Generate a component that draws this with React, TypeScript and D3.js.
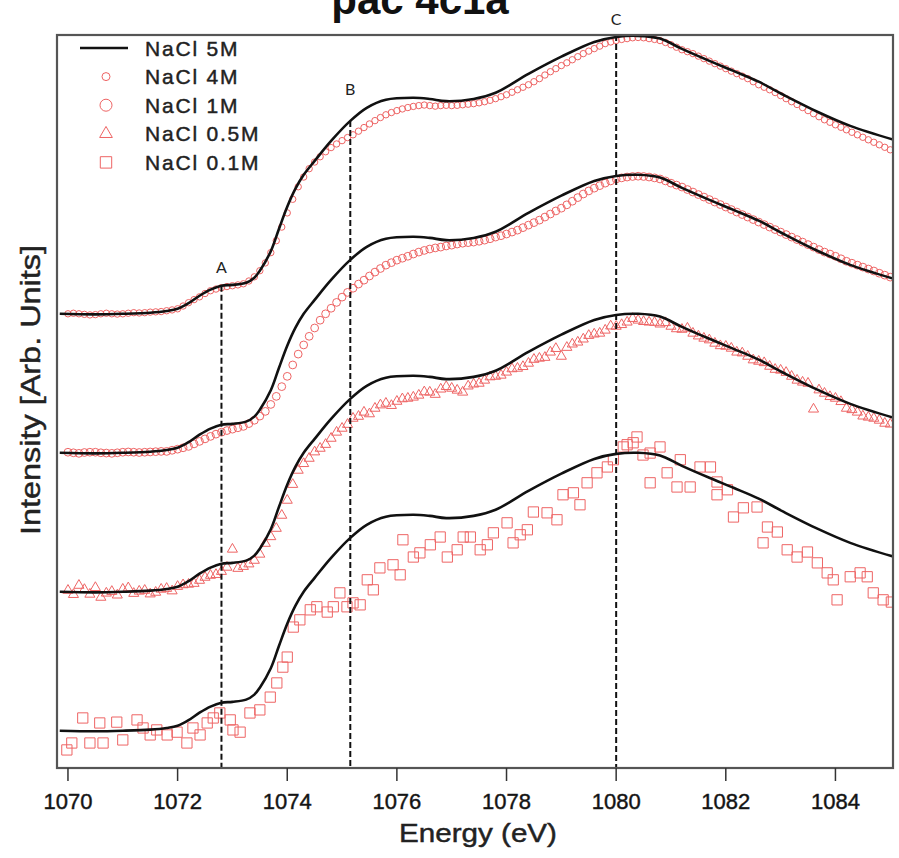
import React from "react";
import * as d3 from "d3";

// ---------- DATA ----------
// NaCl 5M reference curve (normalized intensity, %), [energy eV, value]
const NACL_5M: [number, number][] = [
  [1069.85, 0], [1070.5, -0.2], [1071.0, 0], [1071.5, 0.4], [1071.8, 1.0], [1072.0, 1.8],
  [1072.2, 3.8], [1072.4, 6.5], [1072.6, 8.7], [1072.8, 10.1], [1073.0, 10.4], [1073.25, 11.2],
  [1073.4, 13.0], [1073.5, 15.5], [1073.7, 22.5], [1073.85, 30.6], [1074.0, 38.5], [1074.15, 45.0],
  [1074.3, 50.0], [1074.5, 55.0], [1074.8, 62.2], [1075.15, 69.4], [1075.45, 74.1], [1075.8, 77.0],
  [1076.3, 77.7], [1076.6, 77.3], [1076.9, 76.5], [1077.4, 77.3], [1077.8, 79.5], [1078.4, 86.3],
  [1079.0, 92.5], [1079.6, 97.8], [1080.0, 99.6], [1080.4, 100], [1080.8, 99.0], [1081.2, 95.3],
  [1081.7, 91.0], [1082.14, 87.4], [1082.6, 83.5], [1083.05, 78.8], [1083.67, 72.7], [1084.27, 67.6],
  [1085.05, 62.7],
];

// energy grids of the measured spectra (eV)
const ENERGY_GRID = [
  1070.0, 1070.2, 1070.4, 1070.6, 1070.8, 1071.0, 1071.2, 1071.4, 1071.6, 1071.8,
  1072.0, 1072.2, 1072.4, 1072.6, 1072.8, 1073.0, 1073.2, 1073.4, 1073.6, 1073.8,
  1074.0, 1074.2, 1074.4, 1074.6, 1074.8, 1075.0, 1075.2, 1075.4, 1075.6, 1075.8,
  1076.0, 1076.2, 1076.4, 1076.6, 1076.8, 1077.0, 1077.2, 1077.4, 1077.6, 1077.8,
  1078.0, 1078.2, 1078.4, 1078.6, 1078.8, 1079.0, 1079.2, 1079.4, 1079.6, 1079.8,
  1080.0, 1080.2, 1080.4, 1080.6, 1080.8, 1081.0, 1081.2, 1081.4, 1081.6, 1081.8,
  1082.0, 1082.2, 1082.4, 1082.6, 1082.8, 1083.0, 1083.2, 1083.4, 1083.6, 1083.8,
  1084.0, 1084.2, 1084.4, 1084.6, 1084.8, 1085.0,
];
const ENERGY_GRID_MID = [
  1070.1, 1070.3, 1070.5, 1070.7, 1070.9, 1071.1, 1071.3, 1071.5, 1071.7, 1071.9,
  1072.1, 1072.3, 1072.5, 1072.7, 1072.9, 1073.1, 1073.3, 1073.5, 1073.7, 1073.9,
  1074.1, 1074.3, 1074.5, 1074.7, 1074.9, 1075.1, 1075.3, 1075.5, 1075.7, 1075.9,
  1076.1, 1076.3, 1076.5, 1076.7, 1076.9, 1077.1, 1077.3, 1077.5, 1077.7, 1077.9,
  1078.1, 1078.3, 1078.5, 1078.7, 1078.9, 1079.1, 1079.3, 1079.5, 1079.7, 1079.9,
  1080.1, 1080.3, 1080.5, 1080.7, 1080.9, 1081.1, 1081.3, 1081.5, 1081.7, 1081.9,
  1082.1, 1082.3, 1082.5, 1082.7, 1082.9, 1083.1, 1083.3, 1083.5, 1083.7, 1083.9,
  1084.1, 1084.3, 1084.5, 1084.7, 1084.9,
];

const NACL_4M = [
  0, 0, -0.4, 0, 0, 0, 0.4, 0.4, 0.7, 1.1,
  1.8, 4.0, 6.1, 8.3, 9.4, 10.1, 10.8, 13.3, 18.3, 26.3,
  36.3, 45.7, 52.2, 56.5, 59.8, 62.3, 64.4, 67.0, 69.5, 71.6,
  73.1, 74.2, 74.9, 74.9, 74.9, 74.9, 75.2, 75.6, 76.3, 77.4,
  78.8, 80.6, 82.4, 84.6, 87.1, 89.3, 91.4, 93.6, 95.4, 97.2,
  98.3, 99.0, 99.4, 99.0, 98.3, 96.8, 95.0, 93.6, 91.8, 90.0,
  88.2, 86.4, 84.6, 82.4, 80.6, 78.5, 76.3, 74.2, 72.0, 69.8,
  68.0, 66.2, 64.4, 62.6, 60.8, 59.0,
];
const NACL_4M_MID = [
  0.2, -0.2, -0.3, 0.2, -0.1, 0.2, 0.3, 0.6, 0.8, 1.4,
  2.8, 5.1, 7.3, 8.9, 9.8, 10.4, 11.8, 15.5, 22.0, 31.2,
  41.2, 49.2, 54.6, 58.3, 61.1, 63.4, 65.7, 68.3, 70.6, 72.4,
  73.7, 74.6, 75.1, 74.7, 75.0, 75.0, 75.4, 75.9, 76.8, 78.1,
  79.7, 81.5, 83.5, 85.9, 88.2, 90.3, 92.5, 94.5, 96.3, 97.8,
  98.7, 99.3, 99.3, 98.7, 97.6, 95.9, 94.3, 92.7, 90.9, 89.1,
  87.3, 85.5, 83.5, 81.5, 79.6, 77.4, 75.3, 73.1, 70.9, 68.9,
  67.1, 65.3, 63.5, 61.7, 59.9,
];

const NACL_1M = [
  0.2, -0.2, 0.2, 0, -0.2, 0.2, 0.2, 0.2, 0.4, 0.5,
  1.3, 2.3, 4.1, 5.9, 7.4, 8.5, 9.5, 11.7, 14.9, 20.3,
  27.5, 35.5, 41.9, 47.7, 52.0, 56.0, 59.2, 62.1, 65.0, 67.5,
  69.3, 70.7, 72.2, 73.3, 74.0, 74.7, 75.4, 75.8, 76.5, 77.6,
  78.7, 80.1, 81.9, 83.7, 85.9, 88.0, 90.5, 93.1, 95.2, 97.0,
  98.5, 99.2, 99.5, 99.2, 98.5, 97.0, 95.6, 93.8, 92.0, 90.2,
  88.4, 86.6, 84.8, 83.0, 81.2, 79.4, 77.6, 75.8, 74.0, 72.2,
  70.7, 68.9, 67.5, 66.1, 64.6, 63.2,
];
const NACL_1M_MID = [
  0.0, 0.1, 0.2, -0.1, 0.0, 0.3, 0.1, 0.3, 0.5, 0.9,
  1.8, 3.2, 5.0, 6.7, 8.0, 9.0, 10.5, 13.2, 17.4, 23.8,
  31.6, 38.8, 44.9, 50.0, 54.1, 57.7, 60.7, 63.6, 66.3, 68.4,
  70.0, 71.5, 72.8, 73.7, 74.4, 75.1, 75.6, 76.1, 77.0, 78.1,
  79.4, 81.0, 82.8, 84.8, 87.0, 89.2, 91.8, 94.2, 96.1, 97.8,
  98.9, 99.4, 99.4, 98.9, 97.8, 96.3, 94.7, 92.9, 91.1, 89.3,
  87.5, 85.7, 83.9, 82.1, 80.3, 78.5, 76.7, 74.9, 73.1, 71.5,
  69.8, 68.2, 66.8, 65.4, 63.9,
];

const NACL_05M = [
  0.5, 2.3, -0.9, -2.0, 0.1, 0.9, -0.6, 0.5, -0.2, 1.2,
  1.9, 2.7, 4.1, 5.9, 7.3, 15.3, 9.1, 11.3, 17.4, 22.8,
  32.9, 43.7, 48.0, 51.6, 55.2, 58.8, 62.4, 64.6, 66.0, 67.8,
  68.5, 69.6, 70.7, 71.8, 72.9, 73.2, 71.8, 74.7, 76.1, 77.5,
  79.0, 80.4, 82.2, 84.0, 86.2, 84.7, 89.1, 90.9, 92.7, 94.1,
  95.5, 97.0, 97.7, 97.0, 96.3, 95.5, 94.4, 93.0, 91.2, 89.4,
  88.3, 86.2, 84.7, 82.9, 81.1, 79.7, 77.5, 75.4, 65.7, 71.4,
  69.6, 66.0, 64.6, 62.8, 61.7, 60.3,
];
const NACL_05M_MID = [
  -1.0, 0.8, 1.5, -0.5, -1.2, 1.4, 0.2, -0.8, 0.9, 0.3,
  2.5, 3.0, 5.2, 6.2, 8.8, 8.4, 10.0, 13.5, 19.8, 27.5,
  38.6, 46.1, 50.3, 53.0, 57.4, 60.2, 63.1, 64.0, 67.2, 67.0,
  69.4, 70.0, 71.9, 71.0, 73.8, 72.5, 74.0, 75.0, 77.3, 77.9,
  80.2, 81.0, 83.6, 84.3, 87.5, 87.9, 89.8, 92.2, 93.0, 95.6,
  96.1, 98.3, 97.2, 96.9, 96.8, 94.6, 94.8, 92.0, 90.6, 88.5,
  87.6, 85.9, 83.4, 82.4, 80.0, 78.9, 76.1, 75.0, 72.6, 70.2,
  68.4, 65.5, 63.2, 62.4, 60.6,
];

const NACL_01M_E = [
  1069.98, 1070.07, 1070.27, 1070.4, 1070.58, 1070.64, 1070.89, 1071.0, 1071.26, 1071.37,
  1071.5, 1071.62, 1071.81, 1071.99, 1072.17, 1072.28, 1072.41, 1072.54, 1072.65, 1072.77,
  1072.96, 1073.01, 1073.14, 1073.32, 1073.5, 1073.69, 1073.81, 1073.92, 1074.0, 1074.11,
  1074.23, 1074.42, 1074.54, 1074.73, 1074.84, 1074.96, 1075.09, 1075.2, 1075.33, 1075.46,
  1075.57, 1075.69, 1075.93, 1076.06, 1076.11, 1076.3, 1076.42, 1076.61, 1076.79, 1076.92,
  1077.1, 1077.21, 1077.34, 1077.52, 1077.65, 1077.76, 1078.01, 1078.12, 1078.25, 1078.38,
  1078.49, 1078.74, 1078.92, 1079.03, 1079.22, 1079.34, 1079.47, 1079.65, 1079.84, 1079.95,
  1080.13, 1080.2, 1080.31, 1080.38, 1080.49, 1080.62, 1080.62, 1080.8, 1080.93, 1081.11,
  1081.17, 1081.35, 1081.53, 1081.72, 1081.84, 1081.84, 1082.03, 1082.14, 1082.32, 1082.57,
  1082.68, 1082.76, 1082.94, 1083.12, 1083.3, 1083.49, 1083.67, 1083.85, 1083.96, 1084.03,
  1084.27, 1084.45, 1084.58, 1084.69, 1084.87, 1085.02,
];
const NACL_01M_V = [
  -6.9, -4.4, 4.6, -4.4, 2.8, -4.4, 3.1, -3.3, 3.9, 1.0,
  -1.5, 0.3, -1.5, -0.5, -4.4, 1.0, -1.5, 2.8, 4.6, 6.4,
  3.9, 0.3, -0.5, 6.4, 7.5, 12.1, 17.2, 22.9, 26.5, 37.3,
  39.9, 43.5, 44.6, 42.7, 44.6, 49.6, 44.6, 46.0, 45.3, 54.3,
  50.7, 58.6, 59.7, 56.1, 68.7, 62.5, 64.0, 66.9, 69.7, 62.5,
  65.1, 69.7, 69.7, 65.1, 66.9, 71.2, 74.8, 67.6, 70.5, 72.3,
  78.7, 78.4, 75.9, 84.9, 85.6, 81.3, 89.2, 92.8, 94.9, 97.5,
  102.1, 102.9, 103.6, 105.7, 99.2, 99.9, 89.2, 102.1, 92.8, 87.7,
  97.5, 87.7, 94.9, 94.9, 89.5, 84.9, 86.7, 76.9, 80.2, 80.5,
  67.6, 73.3, 71.5, 65.1, 62.5, 64.3, 60.4, 56.8, 54.3, 47.1,
  55.4, 56.8, 55.4, 49.6, 47.1, 46.3,
];

// vertical stacking offsets (%), bottom to top
const OFFSET_01M = 0;
const OFFSET_05M = 50;
const OFFSET_1M = 100;
const OFFSET_4M = 150;
const REF_OFFSETS = [0, 50, 100, 150];

const X_TICKS = [1070, 1072, 1074, 1076, 1078, 1080, 1082, 1084];
const LEGEND_LABELS = ["NaCl 5M", "NaCl 4M", "NaCl 1M", "NaCl 0.5M", "NaCl 0.1M"];
const FEATURE_LABELS = ["A", "B", "C"];
const FEATURE_ENERGIES = [1072.8, 1075.15, 1080.0];
const FEATURE_TOPS = [160.1, 219.4, 250.3];

// ---------- LAYOUT ----------
const W = 899;
const H = 858;
const PL = 57, PR = 893, PT = 35, PB = 768;
const RED = "#ee6464";

export default function App() {
  const x = d3.scaleLinear().domain([1069.8, 1085.05]).range([PL, PR]);
  const y = d3.scaleLinear().domain([-13.4, 250.3]).range([PB, PT]);

  const lineFor = (off: number) =>
    d3
      .line<[number, number]>()
      .x((d) => x(d[0]))
      .y((d) => y(d[1] + off))
      .curve(d3.curveCatmullRom.alpha(0.5))(NACL_5M) || "";

  const pts = (es: number[], vs: number[]) => es.map((e, i) => [e, vs[i]] as [number, number]);
  const s4 = [...pts(ENERGY_GRID, NACL_4M), ...pts(ENERGY_GRID_MID, NACL_4M_MID)];
  const s1 = [...pts(ENERGY_GRID, NACL_1M), ...pts(ENERGY_GRID_MID, NACL_1M_MID)];
  const s05 = [...pts(ENERGY_GRID, NACL_05M), ...pts(ENERGY_GRID_MID, NACL_05M_MID)];
  const s01 = pts(NACL_01M_E, NACL_01M_V);

  const tri = d3.symbol().type(d3.symbolTriangle).size(44)() || "";
  const triLegend = d3.symbol().type(d3.symbolTriangle).size(70)() || "";
  const sq = d3.symbol().type(d3.symbolSquare).size(105)() || "";
  const sqLegend = d3.symbol().type(d3.symbolSquare).size(130)() || "";

  const legendRowY = (i: number) => 48 + i * 28.6;
  const heavy = { stroke: "#222", strokeWidth: 0.45 };

  return (
    <svg
      width={W}
      height={H}
      style={{ position: "absolute", left: 0, top: 0, background: "#fff" }}
      fontFamily="'Liberation Sans', Arial, sans-serif"
    >
      <defs>
        <clipPath id="plotclip">
          <rect x={PL} y={PT} width={PR - PL} height={PB - PT} />
        </clipPath>
      </defs>

      {/* title, cropped at the top edge as in the source */}
      <text x={420} y={14} fontSize={42} fontWeight="bold" textAnchor="middle" fill="#111">
        pac 4c1a
      </text>

      {/* markers */}
      <g clipPath="url(#plotclip)" fill="none" stroke={RED} strokeWidth={1}>
        {s4.map((d, i) => (
          <circle key={"m4" + i} cx={x(d[0])} cy={y(d[1] + OFFSET_4M)} r={3.2} />
        ))}
        {s1.map((d, i) => (
          <circle key={"m1" + i} cx={x(d[0])} cy={y(d[1] + OFFSET_1M)} r={3.9} />
        ))}
        {s05.map((d, i) => (
          <path key={"m05" + i} d={tri} transform={`translate(${x(d[0])},${y(d[1] + OFFSET_05M)})`} />
        ))}
        {s01.map((d, i) => (
          <path key={"m01" + i} d={sq} transform={`translate(${x(d[0])},${y(d[1] + OFFSET_01M)})`} />
        ))}
      </g>

      {/* reference curves */}
      <g clipPath="url(#plotclip)" fill="none" stroke="#111" strokeWidth={2.6}>
        {REF_OFFSETS.map((o) => (
          <path key={"l" + o} d={lineFor(o)} />
        ))}
      </g>

      {/* feature dashed lines */}
      {FEATURE_ENERGIES.map((e, i) => (
        <g key={"f" + i}>
          <line
            x1={x(e)}
            x2={x(e)}
            y1={y(FEATURE_TOPS[i])}
            y2={PB}
            stroke="#111"
            strokeWidth={2}
            strokeDasharray="6,3"
          />
          <text
            x={x(e)}
            y={y(FEATURE_TOPS[i]) - (i === 0 ? 13 : i === 1 ? 26 : 10)}
            fontSize={16}
            textAnchor="middle"
            fill="#222"
            fontFamily="Lato, 'Open Sans', sans-serif"
          >
            {FEATURE_LABELS[i]}
          </text>
        </g>
      ))}

      {/* frame */}
      <rect x={PL} y={PT} width={PR - PL} height={PB - PT} fill="none" stroke="#555" strokeWidth={2.2} />

      {/* x ticks */}
      {X_TICKS.map((t) => (
        <g key={"t" + t}>
          <line x1={x(t)} x2={x(t)} y1={PB} y2={PB + 13} stroke="#333" strokeWidth={1.5} />
          <text x={x(t)} y={809} fontSize={22} textAnchor="middle" fill="#111" {...heavy}>
            {t}
          </text>
        </g>
      ))}

      {/* axis labels */}
      <text
        x={478}
        y={842}
        fontSize={26}
        textAnchor="middle"
        fill="#222"
        textLength={158}
        lengthAdjust="spacingAndGlyphs"
        {...heavy}
      >
        Energy (eV)
      </text>
      <text
        transform="translate(40,390) rotate(-90)"
        fontSize={28}
        textAnchor="middle"
        fill="#222"
        textLength={290}
        lengthAdjust="spacingAndGlyphs"
        {...heavy}
      >
        Intensity [Arb. Units]
      </text>

      {/* legend */}
      <g>
        {LEGEND_LABELS.map((lab, i) => {
          const ly = legendRowY(i);
          return (
            <g key={"lg" + i}>
              {i === 0 && <line x1={80} x2={128} y1={ly} y2={ly} stroke="#111" strokeWidth={2.6} />}
              {i === 1 && <circle cx={106} cy={ly} r={4} fill="none" stroke={RED} strokeWidth={1} />}
              {i === 2 && <circle cx={106} cy={ly} r={6} fill="none" stroke={RED} strokeWidth={1} />}
              {i === 3 && (
                <path d={triLegend} transform={`translate(106,${ly})`} fill="none" stroke={RED} strokeWidth={1} />
              )}
              {i === 4 && (
                <path d={sqLegend} transform={`translate(106,${ly})`} fill="none" stroke={RED} strokeWidth={1} />
              )}
              <text x={145} y={ly + 7.5} fontSize={21} letterSpacing={1.8} fill="#222" {...heavy}>
                {lab}
              </text>
            </g>
          );
        })}
      </g>
    </svg>
  );
}
